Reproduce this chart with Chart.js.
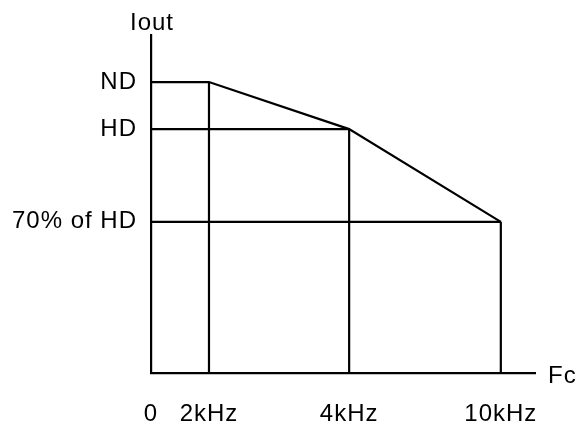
<!DOCTYPE html>
<html>
<head>
<meta charset="utf-8">
<script src="https://cdn.jsdelivr.net/npm/chart.js@4"></script>
<style>
  html, body { margin: 0; padding: 0; background: #fff; }
  #wrap { width: 582px; height: 425px; }
</style>
</head>
<body>
<div id="wrap"><canvas id="chart"></canvas></div>
<script>
// carrier frequency ticks (positions are schematic, not to scale)
const freqLabels = ['0', '2kHz', '4kHz', '10kHz'];
const freqPos = [0, 15.1, 51.6, 91.1];

// output current levels
const levelLabels = ['ND', 'HD', '70% of HD'];
const levelVals = [86.1, 72.2, 44.8];

// derating curve: current level at each frequency tick
const curveLevels = [86.1, 86.1, 72.2, 44.8];

const black = '#000';
const lineW = 2.2;
const fontFamily = "'Liberation Sans', Arial, sans-serif";

function seg(a, b) {
    return {
        data: [a, b],
        borderColor: black,
        borderWidth: lineW,
        pointRadius: 0,
        tension: 0,
        fill: false
    };
}

const datasets = [];
// derating curve
datasets.push({
    data: freqPos.map((x, i) => ({ x: x, y: curveLevels[i] })),
    borderColor: black,
    borderWidth: lineW,
    pointRadius: 0,
    tension: 0,
    fill: false
});
// horizontal lines from the y axis to where each level meets the curve
datasets.push(seg({ x: 0, y: levelVals[1] }, { x: freqPos[2], y: levelVals[1] }));
datasets.push(seg({ x: 0, y: levelVals[2] }, { x: freqPos[3], y: levelVals[2] }));
// vertical lines from the x axis up to the curve
for (let i = 1; i < freqPos.length; i++) {
    datasets.push(seg({ x: freqPos[i], y: 0 }, { x: freqPos[i], y: curveLevels[i] }));
}

// slightly wider letters, like the original drawing
const spacing = {
    id: 'spacing',
    beforeDraw(chart) {
        chart.ctx.letterSpacing = '1px';
    }
};

const axisNames = {
    id: 'axisNames',
    afterDraw(chart) {
        const { ctx, chartArea } = chart;
        ctx.save();
        ctx.fillStyle = black;
        ctx.font = '24px ' + fontFamily;
        ctx.textBaseline = 'alphabetic';
        ctx.textAlign = 'center';
        ctx.fillText('Iout', chartArea.left + 1, chartArea.top - 5);
        ctx.textAlign = 'left';
        ctx.fillText('Fc', chartArea.right + 13, chartArea.bottom + 9.5);
        ctx.restore();
    }
};

const ctx = document.getElementById('chart').getContext('2d');
window.myChart = new Chart(ctx, {
    type: 'line',
    data: { datasets: datasets },
    options: {
        responsive: true,
        maintainAspectRatio: false,
        animation: false,
        layout: { padding: { top: 35, right: 47, left: 0, bottom: 0 } },
        plugins: {
            legend: { display: false },
            tooltip: { enabled: false }
        },
        scales: {
            x: {
                type: 'linear',
                min: 0,
                max: 100,
                grid: { display: false, drawTicks: false },
                border: { display: true, color: black, width: lineW },
                afterFit: s => { s.height = 51.5; },
                afterBuildTicks: s => { s.ticks = freqPos.map(v => ({ value: v })); },
                ticks: {
                    autoSkip: false,
                    maxRotation: 0,
                    padding: 26,
                    color: black,
                    font: { size: 24, family: fontFamily },
                    callback: (v, i) => freqLabels[i]
                }
            },
            y: {
                type: 'linear',
                min: 0,
                max: 100,
                grid: { display: false, drawTicks: false },
                border: { display: true, color: black, width: lineW },
                afterFit: s => { s.width = 151; },
                afterBuildTicks: s => { s.ticks = levelVals.map(v => ({ value: v })); },
                ticks: {
                    autoSkip: false,
                    padding: 14,
                    color: black,
                    font: { size: 24, family: fontFamily },
                    callback: (v, i) => levelLabels[i]
                }
            }
        }
    },
    plugins: [spacing, axisNames]
});
</script>
</body>
</html>
